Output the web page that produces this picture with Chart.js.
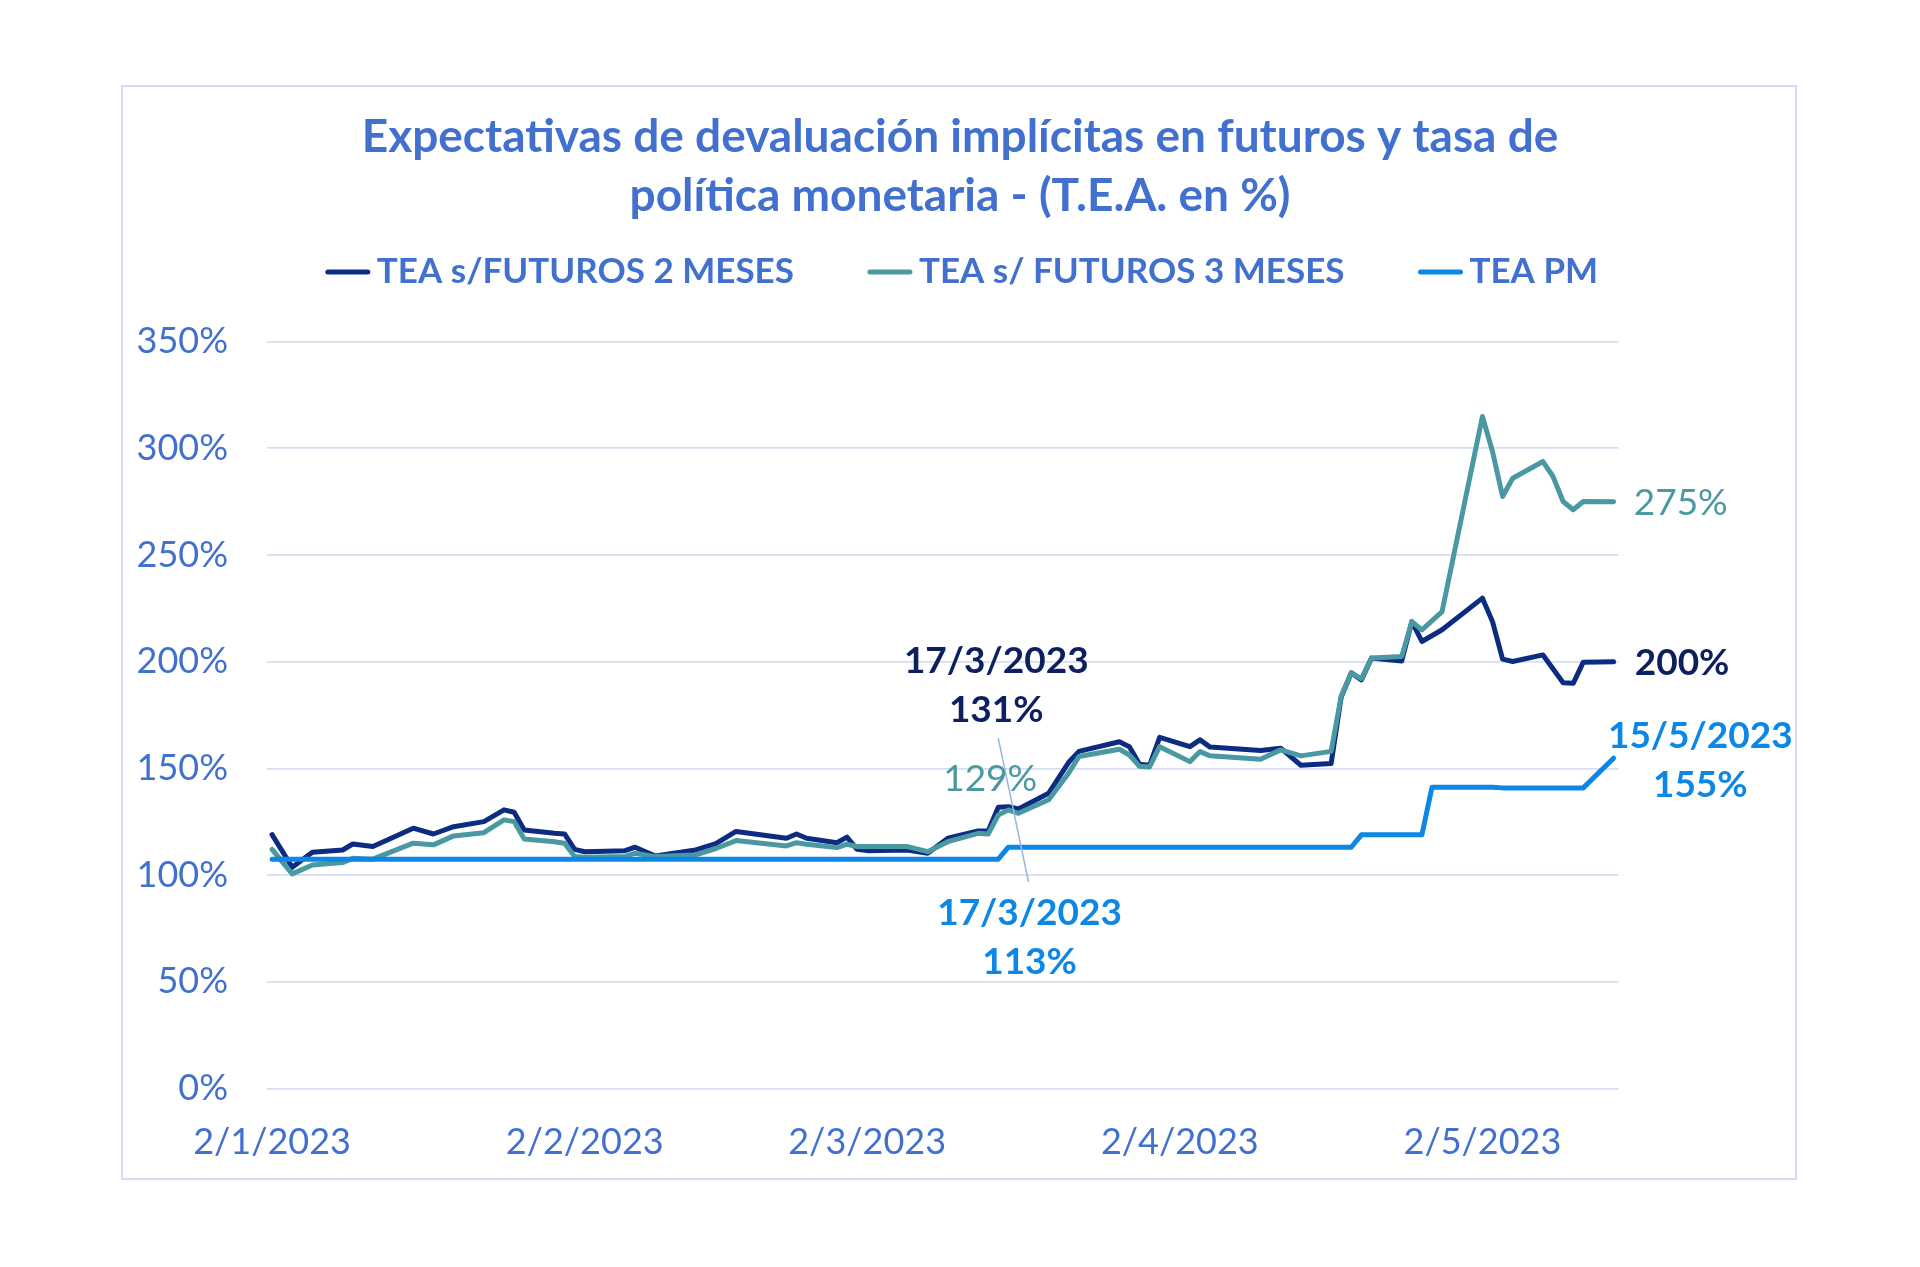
<!DOCTYPE html>
<html lang="es">
<head>
<meta charset="utf-8">
<title>Expectativas de devaluación implícitas en futuros y tasa de política monetaria</title>
<script src="https://cdn.jsdelivr.net/npm/chart.js@4.4.1/dist/chart.umd.min.js"></script>
<style>
  html, body { margin: 0; padding: 0; background: #ffffff; }
  canvas { display: block; }
</style>
</head>
<body>
<canvas id="grafico" width="1920" height="1267"></canvas>
<script>
// fechas de los puntos leídos (días hábiles)
const fechas = [
  "2023-01-02", "2023-01-04", "2023-01-06", "2023-01-09", "2023-01-10", "2023-01-12", "2023-01-16", "2023-01-18",
  "2023-01-20", "2023-01-23", "2023-01-25", "2023-01-26", "2023-01-27", "2023-01-30", "2023-01-31",
  "2023-02-01", "2023-02-02", "2023-02-06", "2023-02-07", "2023-02-09", "2023-02-13", "2023-02-15", "2023-02-17",
  "2023-02-22", "2023-02-23", "2023-02-24", "2023-02-27", "2023-02-28",
  "2023-03-01", "2023-03-02", "2023-03-06", "2023-03-08", "2023-03-10", "2023-03-13", "2023-03-14", "2023-03-15",
  "2023-03-16", "2023-03-17", "2023-03-20", "2023-03-22", "2023-03-23", "2023-03-27", "2023-03-28", "2023-03-29",
  "2023-03-30", "2023-03-31",
  "2023-04-03", "2023-04-04", "2023-04-05", "2023-04-10", "2023-04-12", "2023-04-14", "2023-04-17", "2023-04-18",
  "2023-04-19", "2023-04-20", "2023-04-21", "2023-04-24", "2023-04-25", "2023-04-26", "2023-04-27", "2023-04-28",
  "2023-05-02", "2023-05-03", "2023-05-04", "2023-05-05", "2023-05-08", "2023-05-09", "2023-05-10", "2023-05-11",
  "2023-05-12", "2023-05-15"
]

const futuros2Meses = [
  119, 103.7, 110.7, 111.8, 114.6, 113.4, 122, 119.3,
  122.7, 125.1, 130.6, 129.5, 121.2, 119.6, 119.3,
  112.1, 111, 111.5, 113.1, 109, 111.8, 114.8, 120.5,
  117.3, 119.3, 117.3, 115.2, 117.8,
  112.1, 111.5, 111.8, 110.3, 117.3, 120.7, 120.7, 131.8,
  132.1, 131, 138.4, 153, 158, 162.5, 160.2, 152,
  151.5, 164.6,
  160.2, 163.4, 160, 158.4, 159.5, 151.5, 152.3, 183.5,
  194.8, 191.5, 201.7, 200.4, 218.8, 209.5, null, 215,
  229.8, 218.8, 201.2, 200.1, 203.2, null, 190.2, 189.9,
  199.8, 200
]

const futuros3Meses = [
  112.1, 100.6, 104.8, 105.9, 107.9, 107.5, 115, 114.2,
  118.4, 119.9, 125.9, 125.1, 117, 115.7, 115,
  108.7, 108.4, 108.7, 110.3, 108.7, 109.5, 112.5, 116.2,
  113.7, 115.2, 114.5, 112.9, 114.5,
  113.4, 113.4, 113.4, 111, 115.7, 119.6, 119.3, 128.2,
  130.6, 129, 135.3, 148, 155.6, 159, 156.3, 151,
  150.7, 160.2,
  153.2, 157.9, 155.9, 154.3, 158.7, 155.9, 158, 184,
  194.8, 192, 201.7, 202.5, 218.8, 214.9, null, 223.5,
  314.9, 298.5, 277.4, 286, 293.8, 286.8, 275.1, 271.2,
  275.1, 275
]

const teaPM = [
  107.5, 107.5, 107.5, 107.5, 107.5, 107.5, 107.5, 107.5,
  107.5, 107.5, 107.5, 107.5, 107.5, 107.5, 107.5,
  107.5, 107.5, 107.5, 107.5, 107.5, 107.5, 107.5, 107.5,
  107.5, 107.5, 107.5, 107.5, 107.5,
  107.5, 107.5, 107.5, 107.5, 107.5, 107.5, 107.5, 107.5,
  113.1, 113.1, 113.1, 113.1, 113.1, 113.1, 113.1, 113.1,
  113.1, 113.1,
  113.1, 113.1, 113.1, 113.1, 113.1, 113.1, 113.1, 113.1,
  113.1, 118.9, 118.9, 118.9, 118.9, 118.9, 141.2, 141.2,
  141.2, 141.2, 140.9, 140.9, 140.9, 140.9, 140.9, 140.9,
  140.9, 154.8
]

const ticksFechas = ["2023-01-02", "2023-02-02", "2023-03-02", "2023-04-02", "2023-05-02"]

const titulo = [
  "Expectativas de devaluación implícitas en futuros y tasa de",
  "política monetaria - (T.E.A. en %)"
]
const nombresSeries = ["TEA s/FUTUROS 2 MESES", "TEA s/ FUTUROS 3 MESES", "TEA PM"]

const AZUL_TEXTO = "#4170cf"
const NAVY = "#0b2c80"
const NAVY_TEXTO = "#0c1f5e"
const TEAL = "#4a98a2"
const CELESTE = "#0d87e6"
const FUENTE = "Lato, 'Open Sans', sans-serif"

const DIA = 86400000
const inicio = Date.parse(fechas[0] + "T00:00:00Z")
const aDia = f => (Date.parse(f + "T00:00:00Z") - inicio) / DIA
const etiquetaFecha = f => {
  const [a, m, d] = f.split("-")
  return `${+d}/${+m}/${a}`
}
const puntos = valores => fechas.map((f, i) => ({ x: aDia(f), y: valores[i] }))

// etiquetas de datos del original (en unidades de los ejes)
const notas = [
  { texto: "17/3/2023", x: 71.8, y: 200.4, color: NAVY_TEXTO, peso: "bold", align: "center" },
  { texto: "131%", x: 71.8, y: 177.4, color: NAVY_TEXTO, peso: "bold", align: "center" },
  { texto: "129%", x: 71.2, y: 145.2, color: TEAL, peso: "normal", align: "center" },
  { texto: "17/3/2023", x: 75.1, y: 82.1, color: CELESTE, peso: "bold", align: "center" },
  { texto: "113%", x: 75.1, y: 59.1, color: CELESTE, peso: "bold", align: "center" },
  { texto: "15/5/2023", x: 141.6, y: 165.3, color: CELESTE, peso: "bold", align: "center" },
  { texto: "155%", x: 141.6, y: 142.3, color: CELESTE, peso: "bold", align: "center" },
  { texto: "275%", x: 135.0, y: 274.2, color: TEAL, peso: "normal", align: "left" },
  { texto: "200%", x: 135.1, y: 199.2, color: NAVY_TEXTO, peso: "bold", align: "left" }
]

const marco = {
  id: "marco",
  beforeDraw(chart) {
    const { ctx } = chart
    ctx.save()
    ctx.fillStyle = "#ffffff"
    ctx.fillRect(0, 0, chart.width, chart.height)
    ctx.strokeStyle = "#d3ddf1"
    ctx.lineWidth = 2
    ctx.strokeRect(122, 86, 1674, 1093)
    ctx.restore()
  }
}

const leyenda = {
  id: "leyenda",
  afterDraw(chart) {
    const { ctx } = chart
    const muestra = 44
    const hueco = 7
    const separacion = 74
    ctx.save()
    ctx.font = `bold 35px ${FUENTE}`
    const anchos = chart.data.datasets.map(ds => muestra + hueco + ctx.measureText(ds.label).width)
    const total = anchos.reduce((a, b) => a + b, 0) + separacion * (anchos.length - 1)
    let x = 962 - total / 2
    const y = 272
    chart.data.datasets.forEach((ds, i) => {
      ctx.strokeStyle = ds.borderColor
      ctx.lineWidth = 5
      ctx.lineCap = "round"
      ctx.beginPath()
      ctx.moveTo(x + 2, y)
      ctx.lineTo(x + muestra - 2, y)
      ctx.stroke()
      ctx.fillStyle = AZUL_TEXTO
      ctx.textAlign = "left"
      ctx.textBaseline = "middle"
      ctx.fillText(ds.label, x + muestra + hueco, y)
      x += anchos[i] + separacion
    })
    ctx.restore()
  }
}

const etiquetas = {
  id: "etiquetas",
  afterDatasetsDraw(chart) {
    const { ctx, scales: { x, y } } = chart
    ctx.save()
    // línea guía de las etiquetas del 17/3
    ctx.strokeStyle = "#9fb2e6"
    ctx.lineWidth = 1.5
    ctx.beginPath()
    ctx.moveTo(x.getPixelForValue(72.0), y.getPixelForValue(164.2))
    ctx.lineTo(x.getPixelForValue(75.0), y.getPixelForValue(96.8))
    ctx.stroke()
    ctx.textBaseline = "middle"
    notas.forEach(n => {
      ctx.font = `${n.peso} 37px ${FUENTE}`
      ctx.fillStyle = n.color
      ctx.textAlign = n.align
      ctx.fillText(n.texto, x.getPixelForValue(n.x), y.getPixelForValue(n.y))
    })
    ctx.restore()
  }
}

const serie = (label, valores, color, orden) => ({
  label,
  data: puntos(valores),
  borderColor: color,
  backgroundColor: color,
  borderWidth: 5,
  pointRadius: 0,
  tension: 0,
  spanGaps: true,
  borderJoinStyle: "round",
  borderCapStyle: "round",
  order: orden
})

new Chart(document.getElementById("grafico"), {
  type: "line",
  data: {
    datasets: [
      serie(nombresSeries[0], futuros2Meses, NAVY, 3),
      serie(nombresSeries[1], futuros3Meses, TEAL, 2),
      serie(nombresSeries[2], teaPM, CELESTE, 1)
    ]
  },
  options: {
    responsive: false,
    devicePixelRatio: 1,
    animation: false,
    layout: {
      padding: { top: 0, left: 0, right: 0, bottom: 98.4 }
    },
    plugins: {
      legend: { display: false },
      tooltip: { enabled: false },
      title: {
        display: true,
        text: titulo,
        color: AZUL_TEXTO,
        font: { family: FUENTE, size: 46, weight: "bold", lineHeight: 59 / 46 },
        padding: { top: 107.5, bottom: 116.1 }
      }
    },
    scales: {
      x: {
        type: "linear",
        min: -0.5,
        max: aDia(fechas[fechas.length - 1]) + 0.5,
        afterBuildTicks: scale => {
          scale.ticks = ticksFechas.map(f => ({ value: aDia(f) }))
        },
        afterFit: scale => { scale.height = 80 },
        grid: { display: false, drawTicks: false },
        border: { display: false },
        ticks: {
          padding: 32,
          maxRotation: 0,
          autoSkip: false,
          color: AZUL_TEXTO,
          font: { family: FUENTE, size: 36 },
          callback: value => {
            const f = ticksFechas.find(t => aDia(t) === value)
            return f ? etiquetaFecha(f) : ""
          }
        }
      },
      y: {
        min: 0,
        max: 350,
        afterFit: scale => { scale.width = 267 },
        grid: { color: "#d6dff1", lineWidth: 1.8, drawTicks: false },
        border: { display: false },
        ticks: {
          stepSize: 50,
          padding: 39,
          color: AZUL_TEXTO,
          font: { family: FUENTE, size: 36 },
          callback: value => value + "%"
        }
      },
      // eje vacío a la derecha: deja el espacio de las etiquetas finales
      derecha: {
        type: "linear",
        position: "right",
        afterFit: scale => { scale.width = 301.4 },
        grid: { display: false, drawTicks: false },
        border: { display: false },
        ticks: { display: false }
      }
    }
  },
  plugins: [marco, leyenda, etiquetas]
})
</script>
</body>
</html>
